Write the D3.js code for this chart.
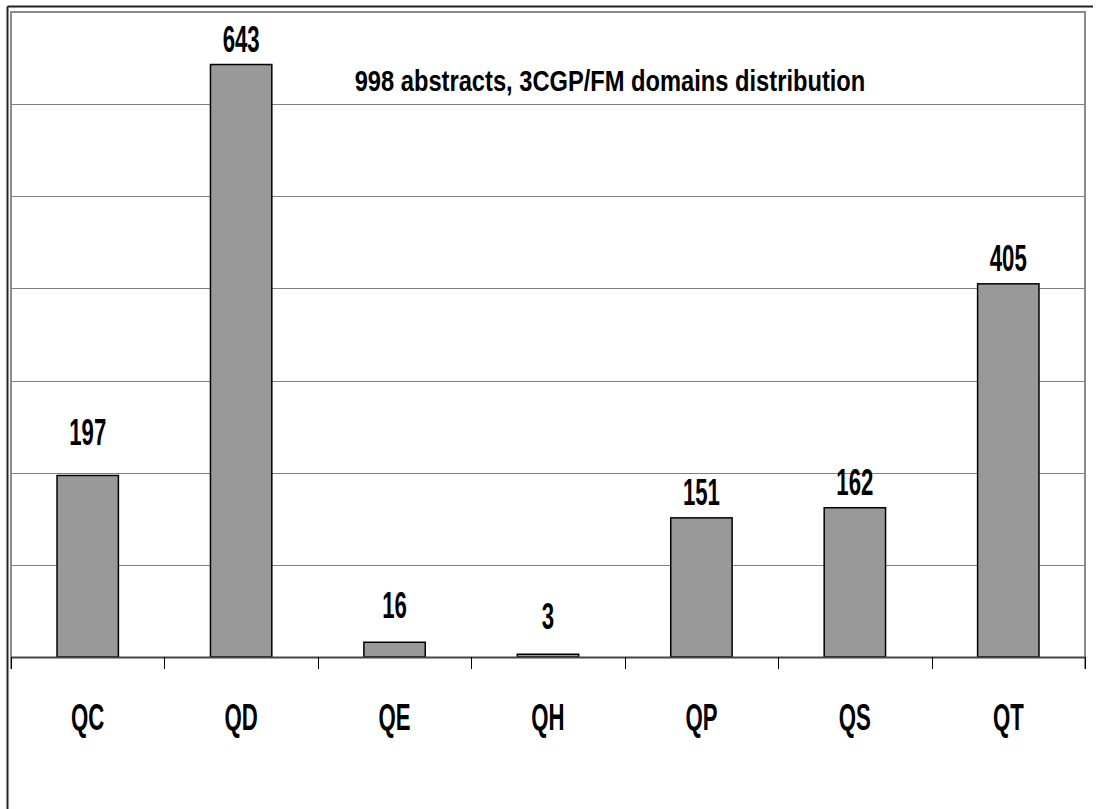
<!DOCTYPE html>
<html>
<head>
<meta charset="utf-8">
<script src="https://cdn.jsdelivr.net/npm/d3@7"></script>
<style>
  body { margin: 0; background: #fff; }
  text { font-family: "Liberation Sans", Arial, sans-serif; font-weight: bold; fill: #000; }
</style>
</head>
<body>
<svg id="chart" width="1099" height="809"></svg>
<script>
// data
const categories = ["QC", "QD", "QE", "QH", "QP", "QS", "QT"];
const counts = [197, 643, 16, 3, 151, 162, 405];
const gridTicks = [100, 200, 300, 400, 500, 600];
const title = "998 abstracts, 3CGP/FM domains distribution";

// a few value labels sit higher than the rest in the original
const labelLift = { QC: 17, QE: 11, QH: 12 };

const svg = d3.select("svg#chart");
const squeeze = 0.6; // text in the original is drawn very narrow

const plot = { left: 11, right: 1085, top: 12, bottom: 657 };

const x = d3.scaleBand().domain(categories).range([plot.left, plot.right]);
const y = d3.scaleLinear().domain([0, 700]).range([plot.bottom, plot.top]);

// outer frame (only top and left edges show)
svg.append("line").attr("x1", 7.5).attr("x2", 1093).attr("y1", 6.5).attr("y2", 6.5)
  .attr("stroke", "#222").attr("stroke-width", 2);
svg.append("line").attr("x1", 7.5).attr("x2", 7.5).attr("y1", 6.5).attr("y2", 809)
  .attr("stroke", "#222").attr("stroke-width", 2);

// gridlines
svg.append("g").selectAll("line").data(gridTicks).enter().append("line")
  .attr("x1", plot.left).attr("x2", plot.right)
  .attr("y1", d => Math.round(y(d)) + 0.5).attr("y2", d => Math.round(y(d)) + 0.5)
  .attr("stroke", "#808080").attr("stroke-width", 1);

// plot area border (top, left, right)
svg.append("path")
  .attr("d", `M${plot.left},669 V${plot.top} H${plot.right} V669`)
  .attr("fill", "none").attr("stroke", "#8a8a8a").attr("stroke-width", 2);

// bars
const barW = x.bandwidth() * 0.4;
svg.append("g").selectAll("rect").data(categories).enter().append("rect")
  .attr("x", d => x(d) + (x.bandwidth() - barW) / 2)
  .attr("y", (d, i) => y(counts[i]))
  .attr("width", barW)
  .attr("height", (d, i) => plot.bottom - y(counts[i]))
  .attr("fill", "#999999").attr("stroke", "#000").attr("stroke-width", 1.5);

// x axis line and ticks between categories
const axis = d3.axisBottom(x).tickSize(0).tickFormat("");
const axisG = svg.append("g").attr("transform", `translate(0,${plot.bottom})`).call(axis);
axisG.select(".domain").attr("stroke", "#444").attr("stroke-width", 2);
const bounds = categories.map(c => x(c)).concat([plot.right]);
axisG.selectAll("line.sep").data(bounds).enter().append("line").attr("class", "sep")
  .attr("x1", d => Math.round(d) + 0.5).attr("x2", d => Math.round(d) + 0.5)
  .attr("y1", 0).attr("y2", 12).attr("stroke", "#000").attr("stroke-width", 1);

// category labels
svg.append("g").selectAll("text").data(categories).enter().append("text")
  .attr("transform", d => `translate(${x(d) + x.bandwidth() / 2},730) scale(${squeeze},1)`)
  .attr("text-anchor", "middle").attr("font-size", 37).text(d => d);

// value labels
svg.append("g").selectAll("text").data(categories).enter().append("text")
  .attr("transform", (d, i) => `translate(${x(d) + x.bandwidth() / 2},${y(counts[i]) - 13 - (labelLift[d] || 0)}) scale(${squeeze},1)`)
  .attr("text-anchor", "middle").attr("font-size", 37).text((d, i) => counts[i]);

// title
svg.append("text")
  .attr("transform", `translate(610,91) scale(0.79,1)`)
  .attr("text-anchor", "middle").attr("font-size", 30).text(title);
</script>
</body>
</html>
